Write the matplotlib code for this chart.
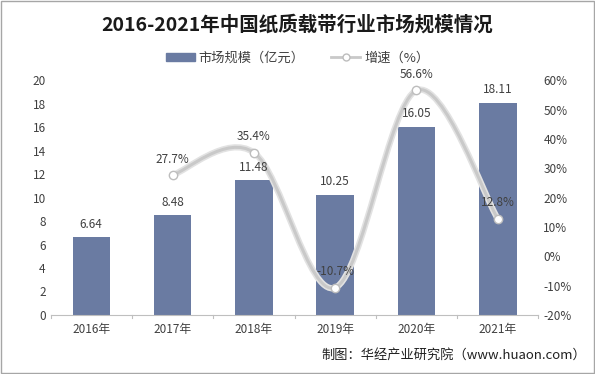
import matplotlib
matplotlib.use("Agg")
import matplotlib.pyplot as plt
from matplotlib.path import Path
from matplotlib.patches import PathPatch, Rectangle
from matplotlib.lines import Line2D
from matplotlib.ticker import FuncFormatter

plt.rcParams['font.family'] = ['Noto Sans CJK SC', 'DejaVu Sans']

years = ['2016年', '2017年', '2018年', '2019年', '2020年', '2021年']
market = [6.64, 8.48, 11.48, 10.25, 16.05, 18.11]
growth = [None, 27.7, 35.4, -10.7, 56.6, 12.8]

bar_color = '#6A7BA2'
line_color = '#C9C9C9'

fig = plt.figure(figsize=(5.95, 3.74), dpi=100)
ax = fig.add_axes([0.085, 0.158, 0.82, 0.627])
ax2 = ax.twinx()

x = list(range(len(years)))
ax.bar(x, market, width=0.46, color=bar_color, zorder=2)

ax.set_xlim(-0.5, len(years) - 0.5)
ax.set_ylim(0, 20)
ax.set_yticks(range(0, 21, 2))
ax.set_xticks(x)
ax.set_xticklabels(years)
ax.tick_params(axis='both', labelsize=8.5, colors='#404040', length=0)
ax.tick_params(axis='x', pad=6)
for s in ['top', 'right', 'left']:
    ax.spines[s].set_visible(False)
ax.spines['bottom'].set_color('#BFBFBF')
# small tick marks between categories
for xb in [i + 0.5 for i in range(-1, len(years))]:
    ax.plot([xb, xb], [0, -0.3], color='#BFBFBF', lw=0.8, clip_on=False)

ax2.set_ylim(-20, 60)
ax2.set_yticks(range(-20, 61, 10))
ax2.yaxis.set_major_formatter(FuncFormatter(lambda v, p: f'{v:.0f}%'))
ax2.tick_params(axis='y', labelsize=8.5, colors='#404040', length=0)
for s in ['top', 'right', 'left', 'bottom']:
    ax2.spines[s].set_visible(False)

# smooth growth line (Catmull-Rom as bezier segments)
pts = [(xi, g) for xi, g in zip(x, growth) if g is not None]
verts = [pts[0]]
codes = [Path.MOVETO]
for i in range(len(pts) - 1):
    p0 = pts[i - 1] if i > 0 else pts[i]
    p1 = pts[i]
    p2 = pts[i + 1]
    p3 = pts[i + 2] if i + 2 < len(pts) else pts[i + 1]
    c1 = (p1[0] + (p2[0] - p0[0]) / 6, p1[1] + (p2[1] - p0[1]) / 6)
    c2 = (p2[0] - (p3[0] - p1[0]) / 6, p2[1] - (p3[1] - p1[1]) / 6)
    verts += [c1, c2, p2]
    codes += [Path.CURVE4] * 3
path = Path(verts, codes)
ax2.add_patch(PathPatch(path, fill=False, edgecolor='#E2E2E2', lw=4.5, zorder=3))
ax2.add_patch(PathPatch(path, fill=False, edgecolor=line_color, lw=2.2, zorder=4))
px = [p[0] for p in pts]
py = [p[1] for p in pts]
ax2.plot(px, py, 'o', ms=6, mfc='white', mec='#BDBDBD', mew=1.0, zorder=5)
for xi, g in pts:
    ax2.text(xi, g + 3.2, f'{g:.1f}%', ha='center', va='bottom', fontsize=8.5, color='#404040', zorder=6)

# bar labels drawn on top of the line
for xi, v in zip(x, market):
    ax2.text(xi, v + 0.55, f'{v:.2f}', transform=ax.transData, ha='center', va='bottom',
             fontsize=8.5, color='#404040', zorder=6)

fig.text(0.5, 0.935, '2016-2021年中国纸质载带行业市场规模情况', ha='center', va='center',
         fontsize=14, fontweight='bold', color='#1A1A1A')

handles = [Rectangle((0, 0), 1, 1, color=bar_color),
           Line2D([], [], color=line_color, lw=2, marker='o', ms=5, mfc='white', mec='#BDBDBD')]
fig.legend(handles, ['市场规模（亿元）', '增速（%）'], loc='center', bbox_to_anchor=(0.5, 0.845),
           ncol=2, frameon=False, fontsize=9.5, handlelength=2.2, handleheight=0.6,
           columnspacing=2.0, handletextpad=0.3, labelcolor='#404040')

fig.text(0.985, 0.05, '制图：华经产业研究院（www.huaon.com）', ha='right', va='center',
         fontsize=9.5, color='#202020')

fig.add_artist(Rectangle((0.002, 0.003), 0.996, 0.994, transform=fig.transFigure,
                         fill=False, edgecolor='#A6A6A6', lw=1))

fig.savefig('out.png', dpi=100)
